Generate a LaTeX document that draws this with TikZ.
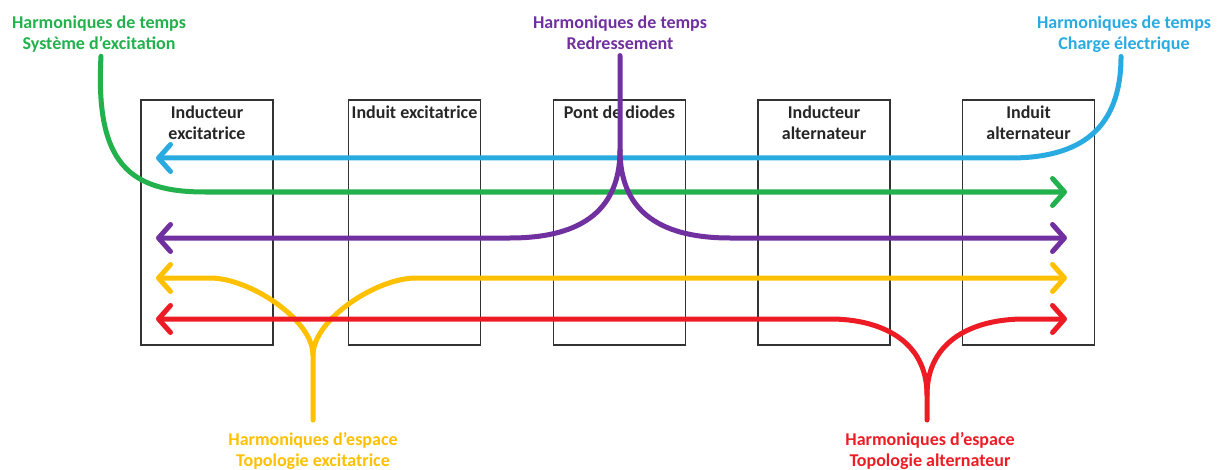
\documentclass[tikz,border=0pt]{standalone}
\usepackage{fontspec}
\setmainfont{Carlito}
\usetikzlibrary{arrows.meta,positioning}
\definecolor{hgreen}{RGB}{34,177,76}
\definecolor{hblue}{RGB}{41,171,226}
\definecolor{hpurple}{RGB}{112,48,160}
\definecolor{hyellow}{RGB}{255,192,0}
\definecolor{hred}{RGB}{237,28,36}
\tikzset{
	unit/.style={draw=black!80, line width=0.8pt, minimum width=66pt,
		minimum height=122.5pt, inner sep=0pt},
	unittxt/.style={font=\fontsize{9}{10.5}\selectfont\bfseries, text=black!85,
		align=center, inner sep=0pt},
	lbl/.style={font=\fontsize{9}{10.5}\selectfont\bfseries, align=center, inner sep=0pt},
	harm/.style={line width=2.5pt, line cap=round, line join=round},
	tip/.style={-{Straight Barb[length=6pt,width=13.5pt,round]}},
}

\begin{document}
\begin{tikzpicture}[x=0.5pt, y=-0.5pt]
	\useasboundingbox (0,0) rectangle (1218,470);
	% machine blocks
	\node[unit] at (207.0,222.5) (indExc) {};
	\node[unit] at (414.5,222.5) (indtExc) {};
	\node[unit] at (619.5,222.5) (pont) {};
	\node[unit] at (824.0,222.5) (indAlt) {};
	\node[unit] at (1028.5,222.5) (indtAlt) {};
	\node[unittxt, below=3pt of indExc.north] (tIndExc) {Inducteur\\excitatrice};
	\node[unittxt, below=3pt of indtExc.north] (tIndtExc) {Induit excitatrice};
	\node[unittxt, below=3pt of pont.north] (tPont) {Pont de diodes};
	\node[unittxt, below=3pt of indAlt.north] (tIndAlt) {Inducteur\\alternateur};
	\node[unittxt, below=3pt of indtAlt.north] (tIndtAlt) {Induit\\alternateur};
	% sources
	\node[lbl, text=hgreen, anchor=north] at (99,15) (lblG) {Harmoniques de temps\\Système d’excitation};
	\node[lbl, text=hpurple, anchor=north] at (620,15) (lblP) {Harmoniques de temps\\Redressement};
	\node[lbl, text=hblue, anchor=north] at (1124,15) (lblB) {Harmoniques de temps\\Charge électrique};
	\node[lbl, text=hyellow, anchor=north] at (313,432) (lblY) {Harmoniques d’espace\\Topologie excitatrice};
	\node[lbl, text=hred, anchor=north] at (930,432) (lblR) {Harmoniques d’espace\\Topologie alternateur};
	% arrow ends and cusps
	\coordinate (bW) at (156,158);
	\coordinate (gE) at (1067,192);
	\coordinate (pC) at (620,150);
	\coordinate (pW) at (156,238);
	\coordinate (pE) at (1067,238);
	\coordinate (yC) at (313,355);
	\coordinate (yW) at (156,278);
	\coordinate (yE) at (1067,278);
	\coordinate (rC) at (927,395);
	\coordinate (rW) at (156,319);
	\coordinate (rE) at (1067,319);
	% harmonic paths
	\draw[harm, hblue, tip] ([xshift=-1.5pt, yshift=-2pt]lblB.south) .. controls +(0,73) and +(70,0) .. (1010,158) -- (bW);
	\draw[harm, hgreen, tip] ([xshift=1pt, yshift=-2pt]lblG.south) .. controls +(-6,108) and +(-75,0) .. (205,192) -- (gE);
	\draw[harm, hyellow, tip] ([yshift=6pt]lblY.north) -- (yC) .. controls +(0,-35) and +(40,0) .. (210,278) -- (yW);
	\draw[harm, hyellow, tip] (yC) .. controls +(0,-35) and +(-40,0) .. (416,278) -- (yE);
	\draw[harm, hred, tip] ([xshift=-1.5pt, yshift=6pt]lblR.north) -- (rC) .. controls +(0,-55) and +(50,0) .. (830,319) -- (rW);
	\draw[harm, hred, tip] (rC) .. controls +(0,-55) and +(-50,0) .. (1024,319) -- (rE);
	\draw[harm, hpurple, tip] ([yshift=-3pt]lblP.south) -- (pC) .. controls +(0,65) and +(65,0) .. (510,238) -- (pW);
	\draw[harm, hpurple, tip] (pC) .. controls +(0,65) and +(-65,0) .. (730,238) -- (pE);
\end{tikzpicture}
\end{document}
